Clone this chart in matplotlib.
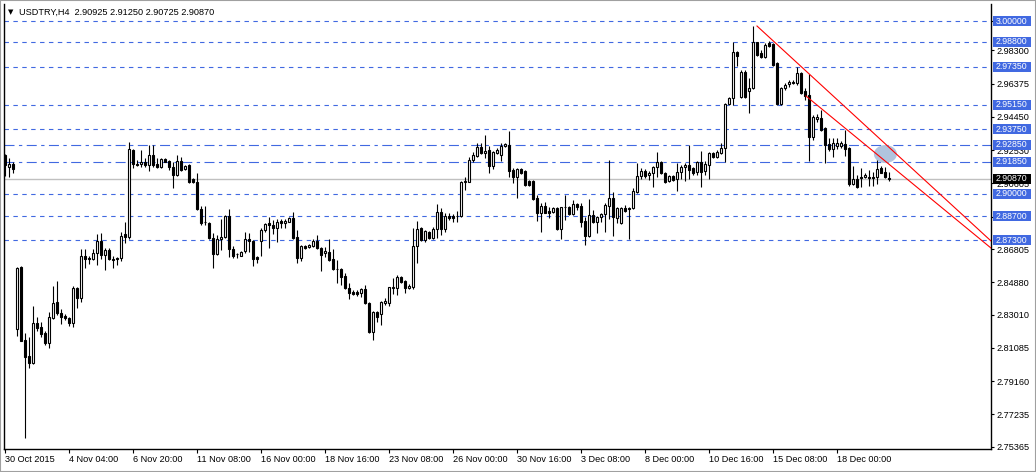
import matplotlib
matplotlib.use("Agg")
import matplotlib.pyplot as plt
from matplotlib.patches import Ellipse, Rectangle
from matplotlib.transforms import blended_transform_factory
import numpy as np

# USDTRY H4 bars (oldest first)
opens = [
    2.9224, 2.9155, 2.9172, 2.8218, 2.8576, 2.8154, 2.8061, 2.8021, 2.8252, 2.8229,
    2.8195, 2.8137, 2.8281, 2.8374, 2.8310, 2.8293, 2.8281, 2.8252, 2.8454, 2.8397,
    2.8640, 2.8628, 2.8622, 2.8657, 2.8727, 2.8646, 2.8675, 2.8622, 2.8628, 2.8628,
    2.8767, 2.8750, 2.9253, 2.9172, 2.9172, 2.9184, 2.9167, 2.9224, 2.9172, 2.9155,
    2.9201, 2.9190, 2.9155, 2.9109, 2.9190, 2.9143, 2.9167, 2.9086, 2.9068, 2.8912,
    2.8837, 2.8831, 2.8744, 2.8651, 2.8738, 2.8750, 2.8871, 2.8680, 2.8651, 2.8640,
    2.8669, 2.8738, 2.8727, 2.8634, 2.8727, 2.8790, 2.8831, 2.8819, 2.8802, 2.8842,
    2.8831, 2.8837, 2.8860, 2.8750, 2.8628, 2.8698, 2.8692, 2.8698, 2.8727, 2.8686,
    2.8657, 2.8663, 2.8622, 2.8565, 2.8565, 2.8524, 2.8454, 2.8431, 2.8431, 2.8425,
    2.8449, 2.8368, 2.8200, 2.8316, 2.8304, 2.8368, 2.8368, 2.8454, 2.8454, 2.8518,
    2.8495, 2.8454, 2.8460, 2.8698, 2.8802, 2.8733, 2.8779, 2.8744, 2.8796, 2.8895,
    2.8796, 2.8871, 2.8871, 2.8871, 2.8871, 2.9068, 2.9068, 2.9196, 2.9219, 2.9271,
    2.9236, 2.9253, 2.9161, 2.9236, 2.9224, 2.9277, 2.9282, 2.9138, 2.9097, 2.9143,
    2.9132, 2.9074, 2.9074, 2.8975, 2.8889, 2.8929, 2.8900, 2.8895, 2.8918, 2.8796,
    2.8924, 2.8924, 2.8883, 2.8941, 2.8929, 2.8842, 2.8756, 2.8877, 2.8837, 2.8866,
    2.8883, 2.8929, 2.8975, 2.8860, 2.8831, 2.8918, 2.8918, 2.8918, 2.9010, 2.9103,
    2.9132, 2.9109, 2.9120, 2.9155, 2.9184, 2.9120, 2.9074, 2.9103, 2.9086, 2.9126,
    2.9155, 2.9167, 2.9149, 2.9126, 2.9184, 2.9132, 2.9167, 2.9236, 2.9213, 2.9236,
    2.9265, 2.9520, 2.9554, 2.9821, 2.9560, 2.9705, 2.9595, 2.9612, 2.9878, 2.9815,
    2.9792, 2.9873, 2.9867, 2.9757, 2.9520, 2.9612, 2.9635, 2.9647, 2.9641, 2.9699,
    2.9595, 2.9572, 2.9328, 2.9433, 2.9439, 2.9381, 2.9288, 2.9259, 2.9277, 2.9277,
    2.9288, 2.9265, 2.9057, 2.9086, 2.9097, 2.9097, 2.9097, 2.9097, 2.9097, 2.9149,
    2.9126, 2.90925,
]
highs = [
    2.9230, 2.9207, 2.9184, 2.8576, 2.8582, 2.8195, 2.8171, 2.8351, 2.8287, 2.8258,
    2.8206, 2.8316, 2.8466, 2.8495, 2.8333, 2.8304, 2.8287, 2.8466, 2.8460, 2.8680,
    2.8680, 2.8640, 2.8680, 2.8767, 2.8773, 2.8686, 2.8686, 2.8640, 2.8634, 2.8779,
    2.8837, 2.9300, 2.9259, 2.9196, 2.9253, 2.9207, 2.9282, 2.9282, 2.9207, 2.9207,
    2.9207, 2.9196, 2.9184, 2.9224, 2.9213, 2.9167, 2.9170, 2.9091, 2.9120, 2.8929,
    2.8929, 2.8834, 2.8773, 2.8761, 2.8854, 2.8877, 2.8912, 2.8698, 2.8657, 2.8669,
    2.8779, 2.8773, 2.8730, 2.8640, 2.8802, 2.8831, 2.8866, 2.8848, 2.8854, 2.8854,
    2.8854, 2.8863, 2.8895, 2.8790, 2.8704, 2.8704, 2.8709, 2.8738, 2.8761, 2.8692,
    2.8692, 2.8738, 2.8680, 2.8617, 2.8568, 2.8541, 2.8483, 2.8443, 2.8443, 2.8454,
    2.8472, 2.8371, 2.8322, 2.8322, 2.8380, 2.8397, 2.8463, 2.8512, 2.8530, 2.8524,
    2.8501, 2.8478, 2.8802, 2.8842, 2.8808, 2.8790, 2.8785, 2.8808, 2.8941, 2.8918,
    2.8889, 2.8889, 2.8883, 2.8900, 2.9074, 2.9097, 2.9213, 2.9242, 2.9294, 2.9294,
    2.9340, 2.9277, 2.9248, 2.9265, 2.9294, 2.9294, 2.9363, 2.9149, 2.9149, 2.9149,
    2.9138, 2.9080, 2.9080, 2.8993, 2.8947, 2.8953, 2.8924, 2.8924, 2.8924, 2.8926,
    2.8993, 2.8929, 2.8964, 2.8947, 2.8947, 2.8866, 2.8970, 2.8906, 2.8871, 2.8889,
    2.8947, 2.9196, 2.9010, 2.8924, 2.8924, 2.8935, 2.8924, 2.9033, 2.9178, 2.9149,
    2.9143, 2.9132, 2.9161, 2.9242, 2.9190, 2.9126, 2.9109, 2.9109, 2.9178, 2.9167,
    2.9178, 2.9282, 2.9155, 2.9190, 2.9248, 2.9190, 2.9242, 2.9242, 2.9253, 2.9294,
    2.9525, 2.9560, 2.9878, 2.9824, 2.9716, 2.9716, 2.9670, 2.9971, 2.9881, 2.9832,
    2.9873, 2.9884, 2.9873, 2.9760, 2.9618, 2.9641, 2.9659, 2.9659, 2.9734, 2.9702,
    2.9612, 2.9693, 2.9456, 2.9462, 2.9485, 2.9386, 2.9323, 2.9323, 2.9323, 2.9306,
    2.9369, 2.9268, 2.9161, 2.9109, 2.9149, 2.9120, 2.9138, 2.9126, 2.9224, 2.9161,
    2.9155, 2.91250,
]
lows = [
    2.9103, 2.9097, 2.9120, 2.8177, 2.8148, 2.7587, 2.7992, 2.8015, 2.8206, 2.8171,
    2.8125, 2.8108, 2.8275, 2.8299, 2.8247, 2.8270, 2.8235, 2.8229, 2.8339, 2.8374,
    2.8570, 2.8594, 2.8617, 2.8588, 2.8622, 2.8559, 2.8617, 2.8570, 2.8588, 2.8611,
    2.8715, 2.8738, 2.9149, 2.9161, 2.9155, 2.9155, 2.9132, 2.9155, 2.9152, 2.9149,
    2.9182, 2.9138, 2.9033, 2.9103, 2.9132, 2.9138, 2.9062, 2.9062, 2.8906, 2.8819,
    2.8819, 2.8738, 2.8570, 2.8648, 2.8675, 2.8744, 2.8634, 2.8628, 2.8628, 2.8638,
    2.8657, 2.8663, 2.8582, 2.8599, 2.8640, 2.8779, 2.8686, 2.8767, 2.8721, 2.8802,
    2.8802, 2.8834, 2.8741, 2.8599, 2.8611, 2.8680, 2.8686, 2.8695, 2.8680, 2.8553,
    2.8634, 2.8611, 2.8559, 2.8483, 2.8472, 2.8449, 2.8391, 2.8414, 2.8408, 2.8402,
    2.8362, 2.8195, 2.8154, 2.8258, 2.8241, 2.8356, 2.8351, 2.8420, 2.8414, 2.8483,
    2.8425, 2.8449, 2.8449, 2.8599, 2.8727, 2.8721, 2.8738, 2.8738, 2.8744, 2.8761,
    2.8779, 2.8848, 2.8837, 2.8837, 2.8866, 2.9022, 2.9066, 2.9184, 2.9213, 2.9230,
    2.9207, 2.9120, 2.9143, 2.9230, 2.9190, 2.9271, 2.9097, 2.9062, 2.8975, 2.9114,
    2.9045, 2.9045, 2.8964, 2.8842, 2.8779, 2.8886, 2.8860, 2.8889, 2.8790, 2.8738,
    2.8848, 2.8877, 2.8877, 2.8906, 2.8808, 2.8704, 2.8750, 2.8831, 2.8773, 2.8837,
    2.8779, 2.8854, 2.8756, 2.8831, 2.8825, 2.8895, 2.8738, 2.8912, 2.9004, 2.9086,
    2.9091, 2.9080, 2.9039, 2.9097, 2.9114, 2.9062, 2.9068, 2.9074, 2.9016, 2.9086,
    2.9074, 2.9086, 2.9109, 2.9109, 2.9039, 2.9109, 2.9086, 2.9210, 2.9210, 2.9233,
    2.9184, 2.9514, 2.9514, 2.9740, 2.9554, 2.9554, 2.9468, 2.9607, 2.9797, 2.9786,
    2.9786, 2.9850, 2.9742, 2.9514, 2.9514, 2.9601, 2.9618, 2.9635, 2.9630, 2.9580,
    2.9543, 2.9190, 2.9311, 2.9415, 2.9363, 2.9178, 2.9248, 2.9213, 2.9259, 2.9265,
    2.9219, 2.9045, 2.9051, 2.9036, 2.9039, 2.9091, 2.9045, 2.9045, 2.9057, 2.9118,
    2.9091, 2.90725,
]
closes = [
    2.9167, 2.9172, 2.9143, 2.8570, 2.8148, 2.8055, 2.8021, 2.8252, 2.8223, 2.8189,
    2.8137, 2.8287, 2.8368, 2.8310, 2.8287, 2.8281, 2.8252, 2.8454, 2.8397, 2.8640,
    2.8622, 2.8625, 2.8657, 2.8727, 2.8646, 2.8675, 2.8622, 2.8619, 2.8625, 2.8756,
    2.8750, 2.9259, 2.9172, 2.9169, 2.9184, 2.9167, 2.9224, 2.9167, 2.9157, 2.9201,
    2.9184, 2.9155, 2.9109, 2.9190, 2.9138, 2.9161, 2.9068, 2.9068, 2.8912, 2.8831,
    2.8834, 2.8744, 2.8651, 2.8738, 2.8750, 2.8871, 2.8680, 2.8640, 2.8649, 2.8663,
    2.8738, 2.8727, 2.8622, 2.8622, 2.8790, 2.8825, 2.8819, 2.8802, 2.8837, 2.8831,
    2.8842, 2.8860, 2.8744, 2.8628, 2.8698, 2.8686, 2.8704, 2.8727, 2.8686, 2.8646,
    2.8669, 2.8617, 2.8565, 2.8562, 2.8518, 2.8454, 2.8425, 2.8420, 2.8420, 2.8449,
    2.8368, 2.8200, 2.8316, 2.8287, 2.8374, 2.8380, 2.8460, 2.8460, 2.8518, 2.8489,
    2.8454, 2.8466, 2.8698, 2.8796, 2.8733, 2.8785, 2.8744, 2.8796, 2.8895, 2.8796,
    2.8871, 2.8860, 2.8860, 2.8869, 2.9068, 2.9074, 2.9196, 2.9224, 2.9271, 2.9236,
    2.9248, 2.9161, 2.9242, 2.9253, 2.9277, 2.9288, 2.9132, 2.9097, 2.9143, 2.9120,
    2.9051, 2.9051, 2.8970, 2.8889, 2.8929, 2.8889, 2.8889, 2.8918, 2.8796, 2.8924,
    2.8921, 2.8883, 2.8941, 2.8924, 2.8837, 2.8756, 2.8877, 2.8837, 2.8866, 2.8883,
    2.8935, 2.8975, 2.8866, 2.8918, 2.8918, 2.8900, 2.8912, 2.9016, 2.9103, 2.9132,
    2.9103, 2.9120, 2.9155, 2.9184, 2.9120, 2.9068, 2.9103, 2.9080, 2.9126, 2.9155,
    2.9167, 2.9138, 2.9120, 2.9184, 2.9126, 2.9172, 2.9236, 2.9213, 2.9242, 2.9265,
    2.9520, 2.9554, 2.9821, 2.9797, 2.9705, 2.9560, 2.9612, 2.9878, 2.9803, 2.9792,
    2.9861, 2.9855, 2.9745, 2.9520, 2.9612, 2.9630, 2.9647, 2.9641, 2.9699, 2.9583,
    2.9566, 2.9328, 2.9444, 2.9444, 2.9369, 2.9282, 2.9259, 2.9294, 2.9294, 2.9294,
    2.9259, 2.9057, 2.9086, 2.9039, 2.9094, 2.9109, 2.9094, 2.9094, 2.9143, 2.9120,
    2.9097, 2.90870,
]

# horizontal levels drawn on the chart
dash_levels = [3.0, 2.988, 2.9735, 2.9515, 2.9375, 2.9, 2.887, 2.873]
dashdot_levels = [2.9285, 2.9185]
last_price = 2.9087

# price scale on the right; 3.00000 and 2.88680 sit fully under the level tags
price_ticks = [3.0, 2.983, 2.96375, 2.9445, 2.9253, 2.90605, 2.8868, 2.86805,
               2.8488, 2.8301, 2.81085, 2.7916, 2.77235, 2.75365]
price_labels = ["", "2.98300", "2.96375", "2.94450", "2.92530", "2.90605", "",
                "2.86805", "2.84880", "2.83010", "2.81085", "2.79160", "2.77235",
                "2.75365"]

# time scale labels, one every 16 bars
time_labels = ["30 Oct 2015", "4 Nov 04:00", "6 Nov 20:00", "11 Nov 08:00",
               "16 Nov 00:00", "18 Nov 16:00", "23 Nov 08:00", "26 Nov 00:00",
               "30 Nov 16:00", "3 Dec 08:00", "8 Dec 00:00", "10 Dec 16:00",
               "15 Dec 08:00", "18 Dec 00:00"]

# two trend lines (bar index, price)
trend_upper_x = [188, 246.5]
trend_upper_y = [2.9971, 2.8727]
trend_lower_x = [200.25, 246.5]
trend_lower_y = [2.9566, 2.8686]

# highlighted spot near the last bars
mark_bar, mark_price = 220.1, 2.9230

BLUE = "#4169E1"
FONT = "Liberation Sans"
FS = 6.6

W, H = 1036, 472
fig = plt.figure(figsize=(W / 100, H / 100), dpi=100)
fig.patch.set_facecolor("white")
ax = fig.add_axes([4 / W, 23 / H, 987 / W, 445 / H])
ax.set_facecolor("white")
ax.set_xlim(-0.25, 246.5)
ax.set_ylim(2.75231, 3.00984)

o = np.array(opens)
h = np.array(highs)
l = np.array(lows)
c = np.array(closes)
x = np.arange(len(c))

for lvl in dash_levels:
    ax.axhline(lvl, color=BLUE, lw=0.8, ls=(0, (4, 4)), zorder=1)
for lvl in dashdot_levels:
    ax.axhline(lvl, color=BLUE, lw=0.8, ls=(0, (9, 4, 3, 4)), zorder=1)
ax.axhline(last_price, color="#C0C0C0", lw=1.0, zorder=1)

# candles
ax.vlines(x, l, h, color="black", lw=0.8, zorder=3)
up = c >= o
lo = np.minimum(o, c)
ht = np.maximum(np.abs(c - o), 0.00003)
ax.bar(x[up], ht[up], bottom=lo[up], width=0.5, facecolor="white",
       edgecolor="black", lw=0.8, zorder=4)
ax.bar(x[~up], ht[~up], bottom=lo[~up], width=0.5, facecolor="black",
       edgecolor="black", lw=0.8, zorder=4)

ax.add_patch(Ellipse((mark_bar, mark_price), 5.75, 0.0104,
                     facecolor="#B0C4DE", edgecolor="none", zorder=5))
ax.plot(trend_upper_x, trend_upper_y, color="red", lw=0.8, zorder=6)
ax.plot(trend_lower_x, trend_lower_y, color="red", lw=0.8, zorder=6)

# axes styling
ax.spines["top"].set_visible(False)
for side in ["left", "right", "bottom"]:
    ax.spines[side].set_color("black")
    ax.spines[side].set_linewidth(1.0)

ax.yaxis.tick_right()
ax.set_yticks(price_ticks)
ax.set_yticklabels(price_labels, fontname=FONT, fontsize=FS)
ax.tick_params(axis="y", length=2.5, width=0.8, pad=1.5, colors="black")

ax.set_xticks(np.arange(0, 16 * len(time_labels), 16))
ax.set_xticklabels(time_labels, ha="left", fontname=FONT, fontsize=FS)
ax.tick_params(axis="x", length=3, width=0.8, pad=1.5, colors="black")

# price tags for the levels
trans = blended_transform_factory(ax.transAxes, ax.transData)
box_h = 0.0058
for lvl in dash_levels + dashdot_levels + [last_price]:
    col = "black" if lvl == last_price else BLUE
    ax.add_patch(Rectangle((1 + 2 / 987, lvl - box_h / 2), 38 / 987, box_h,
                           transform=trans, facecolor=col, edgecolor="none",
                           clip_on=False, zorder=10))
    ax.text(1 + 4.5 / 987, lvl, f"{lvl:.5f}", transform=trans, color="white",
            va="center", ha="left", fontname=FONT, fontsize=6.3,
            clip_on=False, zorder=11)

# header
fig.text(11 / W, 1 - 12 / H, "\u25bc", fontsize=5, color="black",
         va="center", ha="center", family="DejaVu Sans")
fig.text(19 / W, 1 - 12 / H, "USDTRY,H4  2.90925 2.91250 2.90725 2.90870",
         fontname=FONT, fontsize=FS, va="center", ha="left", color="black")

fig.patches.append(Rectangle((0, 0), 1, 1, transform=fig.transFigure,
                             fill=False, edgecolor="#A0A0A0", lw=1.5))

fig.savefig("out.png", dpi=100)
